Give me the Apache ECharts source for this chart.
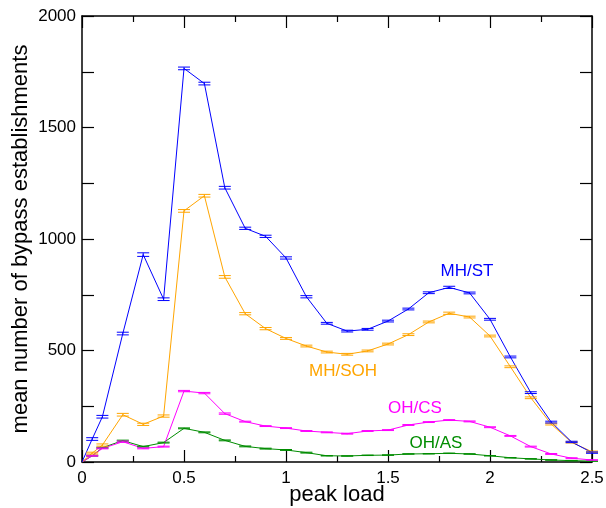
<!DOCTYPE html>
<html>
<head>
<meta charset="utf-8">
<script src="https://cdn.jsdelivr.net/npm/echarts@6/dist/echarts.min.js"></script>
<style>
  html, body { margin: 0; padding: 0; background: #fff; }
  #main { width: 606px; height: 508px; }
</style>
</head>
<body>
<div id="main"></div>
<script>
  // peak load values (x)
  var loads = [0, 0.05, 0.1, 0.2, 0.3, 0.4, 0.5, 0.6, 0.7, 0.8, 0.9, 1.0, 1.1, 1.2, 1.3, 1.4, 1.5, 1.6, 1.7, 1.8, 1.9, 2.0, 2.1, 2.2, 2.3, 2.4, 2.5]

  // mean values
  var mhSt = [0, 103, 203, 576, 930, 730, 1765, 1697, 1230, 1048, 1012, 915, 741, 622, 587, 595, 632, 686, 759, 783, 758, 640, 471, 311, 179, 90, 42]
  var mhSoh = [0, 40, 76, 212, 169, 206, 1126, 1194, 830, 665, 598, 554, 520, 493, 483, 498, 529, 571, 628, 667, 650, 565, 427, 288, 170, 88, 46]
  var ohCs = [0, 28, 61, 91, 61, 69, 318, 309, 217, 181, 161, 152, 139, 133, 127, 139, 143, 166, 179, 188, 182, 156, 117, 69, 36, 17, 9]
  var ohAs = [0, 28, 64, 96, 69, 87, 151, 133, 97, 70, 60, 54, 42, 28, 27, 30, 31, 36, 37, 39, 36, 28, 19, 14, 9, 6, 4]

  // half widths of the error bars
  var mhStErr = [0, 6, 6, 6, 8, 6, 6, 6, 6, 5, 5, 5, 5, 4, 4, 4, 4, 4, 4, 5, 4, 4, 4, 4, 4, 3, 3]
  var mhSohErr = [0, 4, 5, 6, 5, 5, 6, 6, 6, 5, 5, 4, 4, 4, 4, 4, 4, 4, 4, 5, 4, 4, 4, 4, 4, 3, 3]
  var ohCsErr = [0, 2, 2, 3, 2, 2, 3, 3, 3, 2, 2, 2, 2, 2, 2, 2, 2, 2, 2, 2, 2, 2, 2, 2, 2, 2, 1]
  var ohAsErr = [0, 2, 2, 2, 2, 2, 2, 2, 2, 2, 2, 2, 2, 1, 1, 1, 1, 1, 1, 1, 1, 1, 1, 1, 1, 1, 1]

  var xTicks = [0, 0.5, 1, 1.5, 2, 2.5]
  var yTicks = [0, 500, 1000, 1500, 2000]

  var FONT = "'Liberation Sans', Arial, Helvetica, sans-serif"

  function pairs(vals) {
      return loads.map(function(x, i) { return [x, vals[i]] })
  }
  function triples(vals, errs) {
      return loads.map(function(x, i) { return [x, vals[i], errs[i]] })
  }

  function lineSeries(name, vals, color) {
      return {
          name: name,
          type: 'line',
          data: pairs(vals),
          showSymbol: false,
          symbol: 'none',
          lineStyle: { color: color, width: 1 },
          itemStyle: { color: color },
          z: 2
      }
  }

  // error bars: vertical bar plus a cap at both ends
  function errSeries(name, vals, errs, color) {
      return {
          name: name + ' err',
          type: 'custom',
          data: triples(vals, errs),
          encode: { x: 0, y: 1 },
          itemStyle: { color: color },
          z: 3,
          renderItem: function(params, api) {
              var x = api.value(0), y = api.value(1), e = api.value(2)
              if (y === 0) return
              var lo = api.coord([x, y - e])
              var hi = api.coord([x, y + e])
              var w = 6
              var st = { stroke: color, lineWidth: 1 }
              return {
                  type: 'group',
                  children: [
                      { type: 'line', shape: { x1: lo[0], y1: lo[1], x2: hi[0], y2: hi[1] }, style: st },
                      { type: 'line', shape: { x1: lo[0] - w, y1: lo[1], x2: lo[0] + w, y2: lo[1] }, style: st },
                      { type: 'line', shape: { x1: hi[0] - w, y1: hi[1], x2: hi[0] + w, y2: hi[1] }, style: st }
                  ]
              }
          }
      }
  }

  var axisLine = { show: true, onZero: false, lineStyle: { color: '#000', width: 1.5 } }
  var tickStyle = { color: '#000', width: 1.2 }

  var myChart = echarts.init(document.getElementById('main'))
  var option = {
      backgroundColor: '#fff',
      animation: false,
      grid: { left: 82, right: 14, top: 16, bottom: 46, outerBoundsMode: 'none', containLabel: false },
      xAxis: [{
          type: 'value',
          min: 0,
          max: 2.5,
          interval: 0.5,
          name: 'peak load',
          nameLocation: 'middle',
          nameGap: 22,
          nameMoveOverlap: false,
          nameTextStyle: { fontSize: 22, fontFamily: FONT, color: '#000' },
          axisLine: axisLine,
          axisTick: { inside: true, length: 12, lineStyle: tickStyle },
          minorTick: { show: true, splitNumber: 2, length: 6, lineStyle: tickStyle },
          axisLabel: {
              fontSize: 17, fontFamily: FONT, color: '#000', margin: 8,
              formatter: function(v) { return xTicks.indexOf(v) >= 0 ? String(v) : '' }
          },
          splitLine: { show: false }
      }, {
          type: 'value',
          position: 'top',
          min: 0,
          max: 2.5,
          interval: 0.5,
          axisLine: axisLine,
          axisTick: { inside: true, length: 12, lineStyle: tickStyle },
          minorTick: { show: true, splitNumber: 2, length: 6, lineStyle: tickStyle },
          axisLabel: { show: false },
          splitLine: { show: false }
      }],
      yAxis: [{
          type: 'value',
          min: 0,
          max: 2000,
          interval: 250,
          name: 'mean number of bypass establishments',
          nameLocation: 'middle',
          nameGap: 50,
          nameMoveOverlap: false,
          nameTextStyle: { fontSize: 22, fontFamily: FONT, color: '#000' },
          axisLine: axisLine,
          axisTick: { inside: true, length: 12, lineStyle: tickStyle },
          axisLabel: {
              fontSize: 17, fontFamily: FONT, color: '#000', margin: 6,
              formatter: function(v) { return yTicks.indexOf(v) >= 0 ? String(v) : '' }
          },
          splitLine: { show: false }
      }, {
          type: 'value',
          position: 'right',
          min: 0,
          max: 2000,
          interval: 250,
          axisLine: axisLine,
          axisTick: { inside: true, length: 12, lineStyle: tickStyle },
          axisLabel: { show: false },
          splitLine: { show: false }
      }],
      graphic: [
          { type: 'text', x: 467, y: 271, style: { text: 'MH/ST', fill: '#0000ff', font: '17px ' + FONT, textAlign: 'center', textVerticalAlign: 'middle' } },
          { type: 'text', x: 343, y: 371, style: { text: 'MH/SOH', fill: '#ffa500', font: '17px ' + FONT, textAlign: 'center', textVerticalAlign: 'middle' } },
          { type: 'text', x: 415, y: 408, style: { text: 'OH/CS', fill: '#ff00ff', font: '17px ' + FONT, textAlign: 'center', textVerticalAlign: 'middle' } },
          { type: 'text', x: 436, y: 443, style: { text: 'OH/AS', fill: '#008c00', font: '17px ' + FONT, textAlign: 'center', textVerticalAlign: 'middle' } }
      ],
      series: [
          lineSeries('OH/AS', ohAs, '#008c00'),
          lineSeries('OH/CS', ohCs, '#ff00ff'),
          lineSeries('MH/SOH', mhSoh, '#ffa500'),
          lineSeries('MH/ST', mhSt, '#0000ff'),
          errSeries('OH/AS', ohAs, ohAsErr, '#008c00'),
          errSeries('OH/CS', ohCs, ohCsErr, '#ff00ff'),
          errSeries('MH/SOH', mhSoh, mhSohErr, '#ffa500'),
          errSeries('MH/ST', mhSt, mhStErr, '#0000ff')
      ]
  }
  myChart.setOption(option)
</script>
</body>
</html>
